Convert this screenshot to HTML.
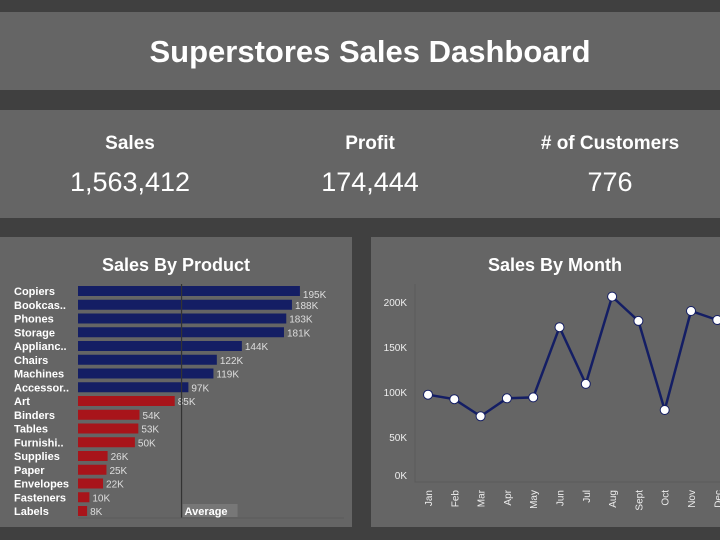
<!DOCTYPE html>
<html><head><meta charset="utf-8"><style>
body{margin:0;width:720px;height:540px;background:#404040;font-family:"Liberation Sans",sans-serif;position:relative;overflow:hidden;color:#fff}
.p{position:absolute;background:#656565}
.kt{position:absolute;width:240px;text-align:center;font-weight:bold;font-size:19px;top:133px}
.kv{position:absolute;width:240px;text-align:center;font-size:27px;top:167px}
</style></head><body>
<div class="p" style="left:0;top:12px;width:720px;height:78px"></div>
<div style="position:absolute;left:0;width:740px;top:34px;text-align:center;font-weight:bold;font-size:31px">Superstores Sales Dashboard</div>
<div class="p" style="left:0;top:110px;width:720px;height:108px"></div>
<div class="kt" style="left:10px">Sales</div>
<div class="kv" style="left:10px">1,563,412</div>
<div class="kt" style="left:250px">Profit</div>
<div class="kv" style="left:250px">174,444</div>
<div class="kt" style="left:490px"># of Customers</div>
<div class="kv" style="left:490px">776</div>
<div class="p" style="left:0;top:237px;width:352px;height:290px"></div>
<div class="p" style="left:371px;top:237px;width:360px;height:290px"></div>
<svg id="c" width="720" height="540" style="position:absolute;left:0;top:0"></svg>
<script>
const products=["Copiers","Bookcas..","Phones","Storage","Applianc..","Chairs","Machines","Accessor..","Art","Binders","Tables","Furnishi..","Supplies","Paper","Envelopes","Fasteners","Labels"];
const productSales=[195,188,183,181,144,122,119,97,85,54,53,50,26,25,22,10,8];
const averageSales=91;
const months=["Jan","Feb","Mar","Apr","May","Jun","Jul","Aug","Sept","Oct","Nov","Dec"];
const monthSales=[97,92,73,93,94,172,109,206,179,80,190,180];
const yTicks=[0,50,100,150,200];
const NS="http://www.w3.org/2000/svg",svg=document.getElementById('c');
function mk(t,a,txt){const e=document.createElementNS(NS,t);for(const k in a)e.setAttribute(k,a[k]);if(txt!=null)e.textContent=txt;svg.appendChild(e);return e;}
let e;
e=mk('text',{x:176,y:271,'text-anchor':'middle','font-size':18,'font-weight':'bold',fill:'#fff'},'Sales By Product');


const bx=v=>78+v*1.138, by=i=>291+i*13.75;
products.forEach((p,i)=>{
 e=mk('text',{x:14,y:by(i)+4,'font-size':11,'font-weight':'bold',fill:'#fff'},p);
 
 
 const v=productSales[i];
 e=mk('rect',{x:78,y:by(i)-5,width:bx(v)-78,height:10,fill:v>=averageSales?'#141e64':'#a8141a'});
 
 
 e=mk('text',{x:bx(v)+3,y:by(i)+i===0?0:0,'font-size':10,fill:'#ddd'},v+'K');
 e.setAttribute('y',by(i)+(i===0?7:4));
 
 
});
e=mk('line',{x1:bx(averageSales),x2:bx(averageSales),y1:284,y2:518,stroke:'#333','stroke-width':1.2});


e=mk('rect',{x:bx(averageSales)+1,y:504,width:55,height:13,fill:'#777'});


e=mk('text',{x:bx(averageSales)+3,y:515,'font-size':11,'font-weight':'bold',fill:'#fff'},'Average');


e=mk('line',{x1:78,x2:344,y1:518,y2:518,stroke:'#5a5a5a'});


// month chart
e=mk('text',{x:555,y:271,'text-anchor':'middle','font-size':18,'font-weight':'bold',fill:'#fff'},'Sales By Month');


const mx=i=>428+i*26.3, my=v=>482-v*0.9;
e=mk('path',{d:'M415 284V482H720',fill:'none',stroke:'#5a5a5a'});


yTicks.forEach(t=>{
 e=mk('text',{x:407,y:Math.min(my(t)+4,479),'text-anchor':'end','font-size':10,fill:'#eee'},t+'K');
 
 
});
e=mk('polyline',{points:monthSales.map((v,i)=>mx(i)+','+my(v)).join(' '),fill:'none',stroke:'#141e64','stroke-width':2.5});


monthSales.forEach((v,i)=>{
 e=mk('circle',{cx:mx(i),cy:my(v),r:4.5,fill:'#fff',stroke:'#141e64','stroke-width':1});
 
 
 e=mk('text',{x:0,y:0,transform:`translate(${mx(i)+4},${490}) rotate(-90)`,'text-anchor':'end','font-size':10,fill:'#eee'},months[i]);
 
 
});
</script>
</body></html>
